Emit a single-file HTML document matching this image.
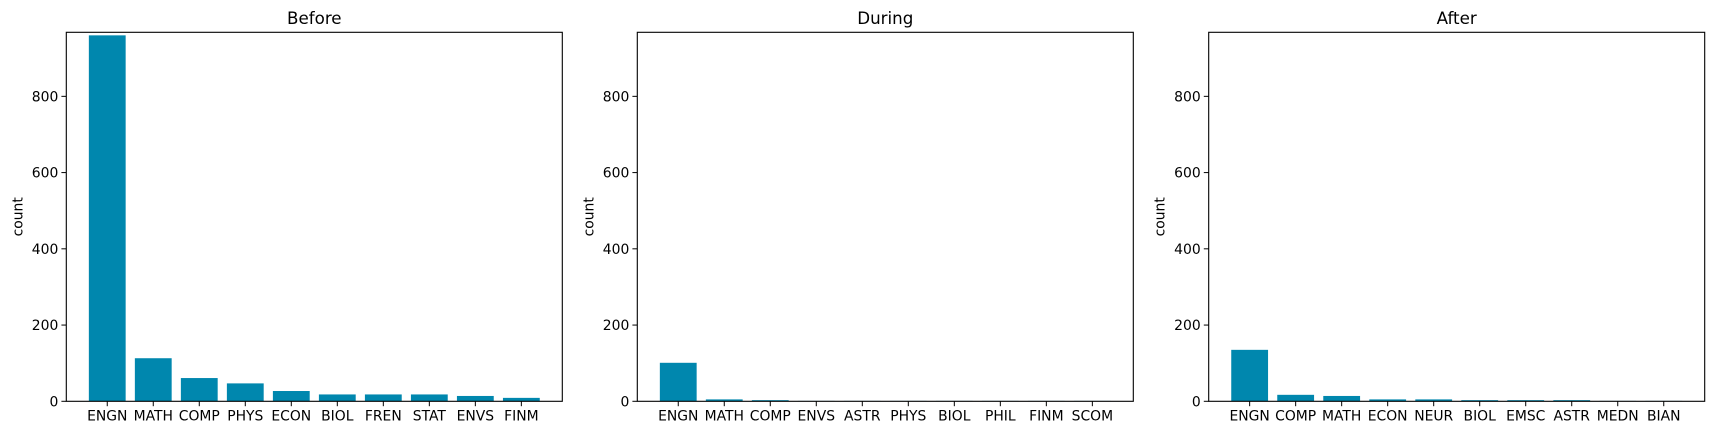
<!DOCTYPE html>
<html><head><meta charset="utf-8">
<style>
html,body{margin:0;padding:0;background:#fff;}
svg{display:block;font-family:"DejaVu Sans","Liberation Sans",sans-serif;}
</style></head>
<body>
<svg id="fig" width="1713" height="435" viewBox="0 0 1713 435" xmlns="http://www.w3.org/2000/svg"></svg>
<script>
const titles = ["Before", "During", "After"];
const catsBefore = ["ENGN","MATH","COMP","PHYS","ECON","BIOL","FREN","STAT","ENVS","FINM"];
const valsBefore = [960,113,61,47,27,18,18,18,14,9];
const catsDuring = ["ENGN","MATH","COMP","ENVS","ASTR","PHYS","BIOL","PHIL","FINM","SCOM"];
const valsDuring = [101,5,3,1,1,1,1,1,1,1];
const catsAfter = ["ENGN","COMP","MATH","ECON","NEUR","BIOL","EMSC","ASTR","MEDN","BIAN"];
const valsAfter = [135,17,14,5,5,3,3,3,1,1];
const yTicks = [0,200,400,600,800];
const yMax = 968;

const NS = "http://www.w3.org/2000/svg";
const fig = document.getElementById("fig");
function mk(tag, attrs, parent){
  const e = document.createElementNS(NS, tag);
  for (const k in attrs) e.setAttribute(k, attrs[k]);
  (parent||fig).appendChild(e);
  return e;
}
const panels = [
  {x0:66.3, cats:catsBefore, vals:valsBefore},
  {x0:637.3, cats:catsDuring, vals:valsDuring},
  {x0:1208.7, cats:catsAfter, vals:valsAfter}
];
const W = 496, plotTop = 32.3, plotBot = 401.3;
panels.forEach((p, pi) => {
  const g = mk("g", {});
  
  
  const n = p.cats.length;
  const lo = -0.4 - 0.05*(n-1+0.8), hi = n-1+0.4 + 0.05*(n-1+0.8);
  const xs = v => p.x0 + (v - lo)/(hi - lo)*W;
  const ys = v => plotBot - v/yMax*(plotBot - plotTop);
  p.vals.forEach((v, i) => {
    const r = mk("rect", {x: xs(i-0.4), y: ys(v), width: xs(i+0.4)-xs(i-0.4), height: plotBot - ys(v), fill: "#0087ae"}, g);
    
    
    const x = xs(i);
    mk("line", {x1:x, x2:x, y1:plotBot, y2:plotBot+4.9, stroke:"#000", "stroke-width":1}, g);
    const t = mk("text", {x:x, y:plotBot+19, "font-size":13.9, "text-anchor":"middle", fill:"#000"}, g);
    t.textContent = p.cats[i];
    
    
  });
  yTicks.forEach(v => {
    const y = ys(v);
    mk("line", {x1:p.x0-4.9, x2:p.x0, y1:y, y2:y, stroke:"#000", "stroke-width":1}, g);
    const t = mk("text", {x:p.x0-8, y:y+5, "font-size":13.9, "text-anchor":"end", fill:"#000"}, g);
    t.textContent = v;
    
    
  });
  const f = mk("rect", {x:p.x0, y:plotTop, width:W, height:plotBot-plotTop, fill:"none", stroke:"#000", "stroke-width":1.1}, g);
  
  
  const tt = mk("text", {x:p.x0+W/2, y:24, "font-size":16.7, "text-anchor":"middle", fill:"#000"}, g);
  tt.textContent = titles[pi];
  
  
  const yl = mk("text", {x:0, y:0, "font-size":13.9, "text-anchor":"middle", fill:"#000", transform:"translate("+(p.x0-44)+","+((plotTop+plotBot)/2)+") rotate(-90)"}, g);
  yl.textContent = "count";
  
  
});
</script>
</body></html>
